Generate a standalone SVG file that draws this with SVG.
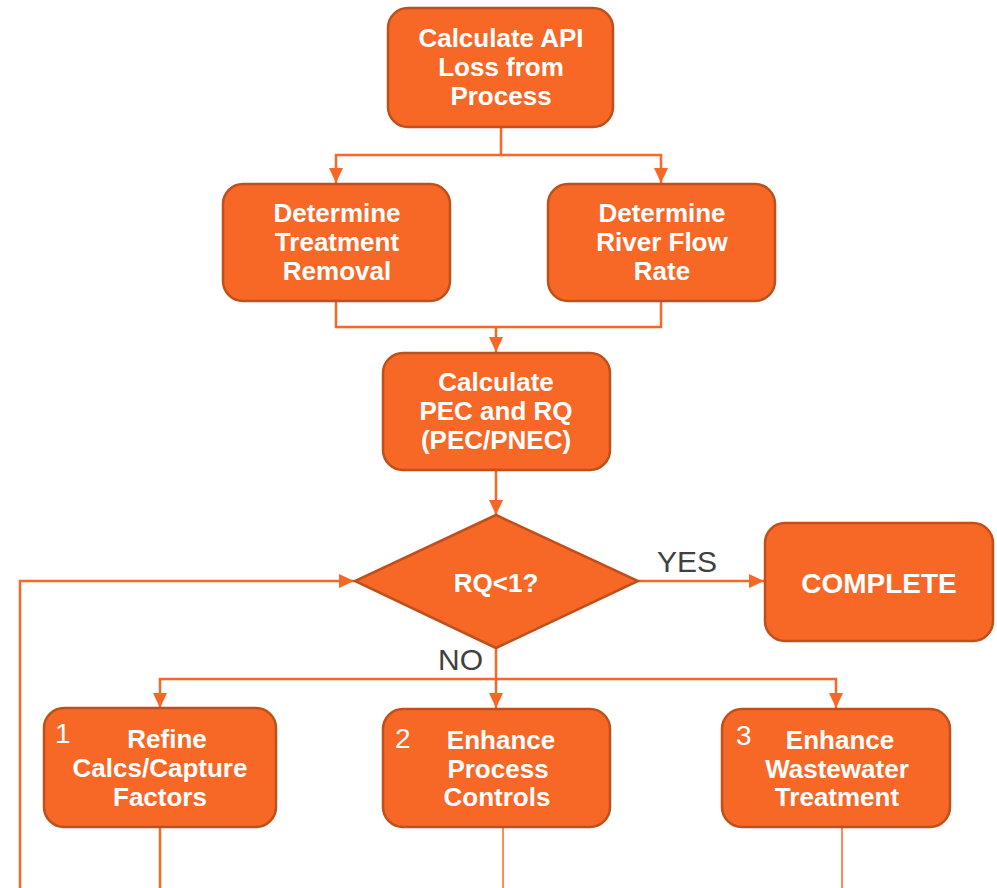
<svg xmlns="http://www.w3.org/2000/svg" width="997" height="888" viewBox="0 0 997 888">
<style>
.node{fill:#F76726;stroke:#BF501C;stroke-width:2.5}
.t{font-family:"Liberation Sans",Arial,sans-serif;font-weight:bold;font-size:26px;fill:#fff;text-anchor:middle}
.num{font-family:"Liberation Sans",Arial,sans-serif;font-size:28px;fill:#fff}
.lbl{font-family:"Liberation Sans",Arial,sans-serif;font-size:30px;fill:#404040}
.c{fill:none;stroke:#F76726;stroke-width:2.5}
.thin{fill:none;stroke:#F76726;stroke-width:1.5}
</style>
<defs>
<marker id="ah" markerUnits="userSpaceOnUse" markerWidth="16" markerHeight="16" viewBox="0 0 16 16" refX="15" refY="8" orient="auto">
<path d="M0,1 L15,8 L0,15 Z" fill="#F76726"/>
</marker>
</defs>
<g id="connectors">
<path class="c" d="M501,127 V155 H336 V183" marker-end="url(#ah)"/>
<path class="c" d="M501,155 H661 V183" marker-end="url(#ah)"/>
<path class="c" d="M336,301 V327 H661 V301"/>
<path class="c" d="M496,327 V352" marker-end="url(#ah)"/>
<path class="c" d="M496,470 V515" marker-end="url(#ah)"/>
<path class="c" d="M638,581 H764" marker-end="url(#ah)"/>
<path class="c" d="M496,648 V708" marker-end="url(#ah)"/>
<path class="c" d="M496,679 H160 V708" marker-end="url(#ah)"/>
<path class="c" d="M496,679 H836 V708" marker-end="url(#ah)"/>
<path class="c" d="M20,888 V581 H354" marker-end="url(#ah)"/>
<path class="c" d="M160,827 V888"/>
<path class="thin" d="M503,827 V888"/>
<path class="thin" d="M842,827 V888"/>
<text class="lbl" x="657" y="572">YES</text>
<text class="lbl" x="438" y="670">NO</text>
</g>
<g id="n1">
<rect class="node" x="388" y="8" width="225" height="119" rx="20"/>
<text class="t" x="501" y="47">Calculate API</text>
<text class="t" x="501" y="76">Loss from</text>
<text class="t" x="501" y="105">Process</text>
</g>
<g id="n2">
<rect class="node" x="223" y="184" width="227" height="117" rx="20"/>
<text class="t" x="337" y="222">Determine</text>
<text class="t" x="337" y="251">Treatment</text>
<text class="t" x="337" y="280">Removal</text>
</g>
<g id="n3">
<rect class="node" x="548" y="184" width="227" height="117" rx="20"/>
<text class="t" x="662" y="222">Determine</text>
<text class="t" x="662" y="251">River Flow</text>
<text class="t" x="662" y="280">Rate</text>
</g>
<g id="n4">
<rect class="node" x="383" y="353" width="227" height="117" rx="20"/>
<text class="t" x="496" y="391">Calculate</text>
<text class="t" x="496" y="420">PEC and RQ</text>
<text class="t" x="496" y="449">(PEC/PNEC)</text>
</g>
<g id="n5">
<path class="node" d="M496,515 L638,581 L496,648 L355,581 Z"/>
<text class="t" x="496" y="592">RQ&lt;1?</text>
</g>
<g id="n6">
<rect class="node" x="765" y="523" width="228" height="118" rx="20"/>
<text class="t" x="879" y="593" style="font-size:28px">COMPLETE</text>
</g>
<g id="n7">
<rect class="node" x="44" y="708" width="232" height="119" rx="20"/>
<text class="num" x="55" y="743">1</text>
<text class="t" x="167" y="748">Refine</text>
<text class="t" x="160" y="777">Calcs/Capture</text>
<text class="t" x="160" y="806">Factors</text>
</g>
<g id="n8">
<rect class="node" x="383" y="709" width="227" height="118" rx="20"/>
<text class="num" x="395" y="748">2</text>
<text class="t" x="501" y="749">Enhance</text>
<text class="t" x="498" y="778">Process</text>
<text class="t" x="497" y="806">Controls</text>
</g>
<g id="n9">
<rect class="node" x="722" y="709" width="228" height="118" rx="20"/>
<text class="num" x="736" y="745">3</text>
<text class="t" x="840" y="749">Enhance</text>
<text class="t" x="837" y="778">Wastewater</text>
<text class="t" x="837" y="806">Treatment</text>
</g>
</svg>
